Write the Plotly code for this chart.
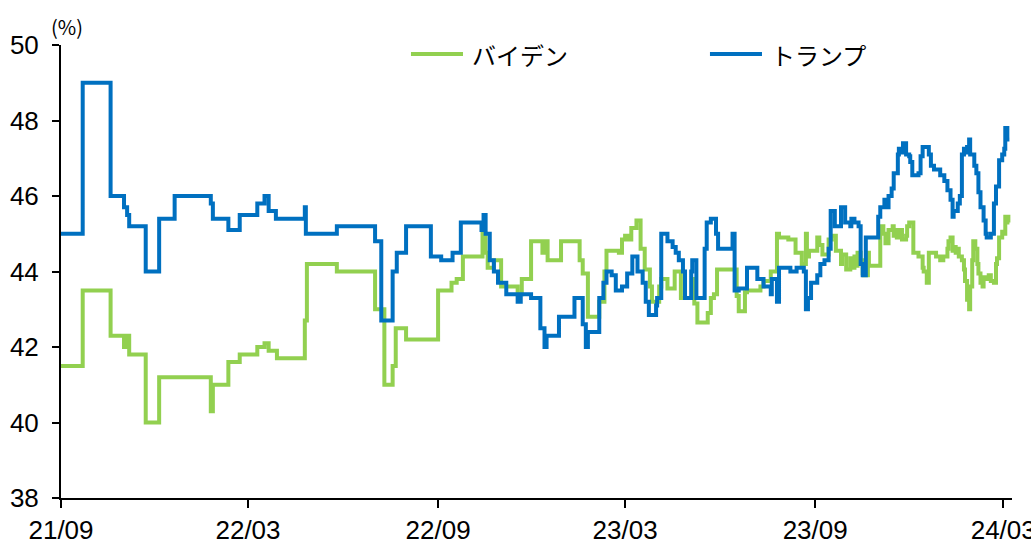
import plotly.graph_objects as go

# Poll averages (%), step series
biden_dates = [
    "2021-09-01", "2021-09-22", "2021-10-19", "2021-11-01", "2021-11-03", "2021-11-06",
    "2021-11-22", "2021-12-05", "2022-01-24", "2022-01-26", "2022-02-10", "2022-02-21",
    "2022-03-10", "2022-03-17", "2022-03-21", "2022-03-29", "2022-04-25", "2022-04-27",
    "2022-05-26", "2022-07-02", "2022-07-11", "2022-07-19", "2022-07-22", "2022-08-01",
    "2022-09-01", "2022-09-14", "2022-09-19", "2022-09-25", "2022-10-14", "2022-10-17",
    "2022-10-19", "2022-10-25", "2022-11-01", "2022-11-17", "2022-11-21", "2022-11-30",
    "2022-12-11", "2022-12-13", "2022-12-16", "2022-12-29", "2023-01-16", "2023-01-19",
    "2023-01-24", "2023-02-04", "2023-02-09", "2023-02-11", "2023-02-23", "2023-02-26",
    "2023-03-01", "2023-03-04", "2023-03-07", "2023-03-12", "2023-03-16", "2023-03-20",
    "2023-03-25", "2023-03-27", "2023-04-03", "2023-04-05", "2023-04-11", "2023-04-18",
    "2023-04-24", "2023-05-05", "2023-05-07", "2023-05-10", "2023-05-20", "2023-05-23",
    "2023-05-26", "2023-05-29", "2023-06-17", "2023-06-19", "2023-06-25", "2023-06-27",
    "2023-07-10", "2023-07-13", "2023-07-20", "2023-07-26", "2023-07-28", "2023-08-06",
    "2023-08-13", "2023-08-19", "2023-08-23", "2023-08-24", "2023-08-26", "2023-09-03",
    "2023-09-05", "2023-09-08", "2023-09-14", "2023-09-17", "2023-09-21", "2023-09-26",
    "2023-09-27", "2023-10-01", "2023-10-05", "2023-10-07", "2023-10-09", "2023-10-10",
    "2023-10-12", "2023-10-15", "2023-10-17", "2023-10-18", "2023-10-22", "2023-10-23",
    "2023-11-03", "2023-11-06", "2023-11-08", "2023-11-11", "2023-11-15", "2023-11-16",
    "2023-11-18", "2023-11-19", "2023-11-22", "2023-11-24", "2023-11-28", "2023-11-29",
    "2023-12-01", "2023-12-05", "2023-12-10", "2023-12-14", "2023-12-15", "2023-12-18",
    "2023-12-20", "2023-12-27", "2023-12-31", "2024-01-03", "2024-01-07", "2024-01-08",
    "2024-01-10", "2024-01-12", "2024-01-13", "2024-01-15", "2024-01-16", "2024-01-18",
    "2024-01-21", "2024-01-23", "2024-01-24", "2024-01-26", "2024-01-28", "2024-01-29",
    "2024-01-31", "2024-02-01", "2024-02-03", "2024-02-05", "2024-02-06", "2024-02-08",
    "2024-02-10", "2024-02-11", "2024-02-14", "2024-02-16", "2024-02-18", "2024-02-21",
    "2024-02-23", "2024-02-24", "2024-02-26", "2024-02-29", "2024-03-02", "2024-03-03",
    "2024-03-05", "2024-03-06", "2024-03-07",
]
biden_values = [
    41.5, 43.5, 42.3, 42.0, 42.3, 41.8,
    40.0, 41.2, 40.3, 41.0, 41.6, 41.8,
    42.0, 42.1, 41.9, 41.7, 42.7, 44.2,
    44.0, 43.0, 41.0, 41.5, 42.5, 42.2,
    43.5, 43.7, 43.8, 44.4, 45.0, 44.5,
    44.1, 44.3, 43.6, 43.4, 43.8, 44.8,
    44.5, 44.8, 44.3, 44.8, 44.3, 43.95,
    42.8, 43.2, 44.0, 44.55, 44.5, 44.85,
    44.95, 44.85, 45.15, 45.35, 44.6, 44.05,
    43.6, 43.2, 43.6, 43.8, 43.55, 44.0,
    43.3, 43.8, 43.15, 42.65, 42.9, 43.3,
    43.4, 44.05, 43.35, 42.95, 43.45, 43.5,
    43.6, 43.75, 44.0, 45.0, 44.9, 44.85,
    44.5, 44.2, 45.0, 44.4, 44.55, 44.9,
    44.7, 44.45, 44.85, 44.95, 44.55, 44.2,
    44.45, 44.05, 44.35, 44.1, 44.4, 44.15,
    44.5, 44.3, 43.95, 43.9, 44.5, 44.15,
    45.2, 45.0, 44.75, 45.1, 45.2, 44.95,
    45.1, 44.9, 45.1, 44.85, 44.95, 45.2,
    45.3, 44.5, 44.4, 44.1, 44.0, 43.7,
    44.5, 44.4, 44.3, 44.4, 44.6, 44.8,
    44.9, 44.55, 44.65, 44.5, 44.6, 44.4,
    44.3, 44.05, 43.75, 43.25, 43.0, 43.6,
    44.3, 44.8, 44.6, 44.2, 43.95, 43.7,
    43.6, 43.85, 43.8, 43.9, 43.75, 43.7,
    44.2, 44.35, 44.9, 45.05, 45.0, 45.45,
    45.45, 45.3, 45.3,
]

trump_dates = [
    "2021-09-01", "2021-09-22", "2021-10-19", "2021-11-01", "2021-11-04", "2021-11-06",
    "2021-11-22", "2021-12-05", "2021-12-20", "2022-01-24", "2022-01-26", "2022-02-10",
    "2022-02-21", "2022-03-10", "2022-03-17", "2022-03-21", "2022-03-28", "2022-04-25",
    "2022-04-26", "2022-05-26", "2022-07-02", "2022-07-08", "2022-07-19", "2022-07-23",
    "2022-08-01", "2022-08-25", "2022-09-04", "2022-09-15", "2022-09-23", "2022-10-13",
    "2022-10-15", "2022-10-17", "2022-10-21", "2022-10-25", "2022-10-29", "2022-11-06",
    "2022-11-17", "2022-11-20", "2022-11-30", "2022-12-09", "2022-12-13", "2022-12-15",
    "2022-12-27", "2023-01-11", "2023-01-19", "2023-01-22", "2023-01-24", "2023-02-04",
    "2023-02-08", "2023-02-11", "2023-02-16", "2023-02-20", "2023-02-26", "2023-03-03",
    "2023-03-08", "2023-03-13", "2023-03-18", "2023-03-21", "2023-03-24", "2023-03-31",
    "2023-04-01", "2023-04-05", "2023-04-11", "2023-04-16", "2023-04-19", "2023-04-22",
    "2023-04-26", "2023-04-28", "2023-05-04", "2023-05-05", "2023-05-09", "2023-05-17",
    "2023-05-19", "2023-05-23", "2023-05-28", "2023-05-30", "2023-06-13", "2023-06-15",
    "2023-06-19", "2023-06-27", "2023-07-07", "2023-07-13", "2023-07-20", "2023-07-21",
    "2023-07-26", "2023-07-28", "2023-08-08", "2023-08-14", "2023-08-21", "2023-08-23",
    "2023-08-25", "2023-08-28", "2023-09-03", "2023-09-06", "2023-09-10", "2023-09-14",
    "2023-09-16", "2023-09-20", "2023-09-26", "2023-09-30", "2023-10-05", "2023-10-06",
    "2023-10-09", "2023-10-13", "2023-10-15", "2023-10-17", "2023-10-20", "2023-11-01",
    "2023-11-03", "2023-11-07", "2023-11-09", "2023-11-11", "2023-11-14", "2023-11-16",
    "2023-11-20", "2023-11-21", "2023-11-23", "2023-11-25", "2023-11-28", "2023-12-01",
    "2023-12-02", "2023-12-04", "2023-12-10", "2023-12-12", "2023-12-14", "2023-12-20",
    "2023-12-22", "2023-12-25", "2023-12-31", "2024-01-04", "2024-01-07", "2024-01-10",
    "2024-01-12", "2024-01-13", "2024-01-17", "2024-01-19", "2024-01-21", "2024-01-23",
    "2024-01-25", "2024-01-26", "2024-01-28", "2024-01-29", "2024-02-02", "2024-02-04",
    "2024-02-06", "2024-02-08", "2024-02-11", "2024-02-13", "2024-02-14", "2024-02-18",
    "2024-02-21", "2024-02-23", "2024-02-26", "2024-02-29", "2024-03-02", "2024-03-03",
    "2024-03-05", "2024-03-07",
]
trump_values = [
    45.0, 49.0, 46.0, 45.7, 45.5, 45.2,
    44.0, 45.4, 46.0, 45.8, 45.4, 45.1,
    45.5, 45.8, 46.0, 45.6, 45.4, 45.7,
    45.0, 45.2, 44.8, 42.7, 44.0, 44.5,
    45.2, 44.4, 44.3, 44.5, 45.3, 45.1,
    45.5, 45.0, 44.3, 44.0, 43.7, 43.4,
    43.2, 43.4, 43.3, 42.5, 42.0, 42.3,
    42.8, 43.3, 42.6, 42.0, 42.4, 43.3,
    43.7, 44.0, 43.9, 43.5, 43.6, 43.95,
    44.4, 44.0, 43.7, 43.2, 42.85, 43.1,
    43.3, 45.0, 44.8, 44.65, 44.5, 44.3,
    44.0, 43.3, 44.0, 44.3, 43.3, 44.6,
    45.3, 45.4, 45.0, 44.6, 45.0, 43.5,
    43.55, 44.1, 43.8, 43.6, 43.4, 43.8,
    43.2, 44.1, 44.0, 44.1, 44.0, 43.0,
    43.3, 43.7, 43.9, 44.2, 44.3, 44.6,
    45.6, 45.2, 45.7, 45.3, 45.2, 45.4,
    45.3, 45.2, 44.2, 43.9, 44.9, 45.45,
    45.7, 45.9, 45.7, 46.0, 46.2, 46.6,
    47.1, 47.25, 47.15, 47.4, 47.1, 47.05,
    46.9, 46.55, 46.6, 47.05, 47.3, 47.1,
    46.8, 46.7, 46.55, 46.4, 46.15, 45.9,
    45.45, 45.6, 45.8, 46.0, 47.1, 47.25,
    47.15, 47.3, 47.5, 47.1, 46.8, 46.6,
    46.1, 45.7, 45.35, 45.0, 44.9, 45.0,
    45.8, 46.25, 46.95, 47.1, 47.25, 47.8,
    47.5, 47.5,
]

x_tick_dates = ["2021-09-01", "2022-03-01", "2022-09-01", "2023-03-01", "2023-09-01", "2024-03-01"]
x_tick_labels = ["21/09", "22/03", "22/09", "23/03", "23/09", "24/03"]
y_ticks = [38, 40, 42, 44, 46, 48, 50]

BIDEN_COLOR = "#92D050"
TRUMP_COLOR = "#0070C0"
TICK_FONT = dict(family="Liberation Sans, Arial, sans-serif", size=26, color="#000000")
JP_FONT = "Noto Sans CJK JP, sans-serif"

fig = go.Figure()
fig.add_trace(go.Scatter(
    x=biden_dates, y=biden_values, name="バイデン", mode="lines",
    line=dict(color=BIDEN_COLOR, width=4, shape="hv"),
))
fig.add_trace(go.Scatter(
    x=trump_dates, y=trump_values, name="トランプ", mode="lines",
    line=dict(color=TRUMP_COLOR, width=4, shape="hv"),
))

fig.update_layout(
    width=1031, height=545,
    margin=dict(l=61, r=19, t=45, b=47, autoexpand=False),
    paper_bgcolor="white", plot_bgcolor="white",
    showlegend=False,
    xaxis=dict(
        type="date",
        range=["2021-09-01", "2024-03-09 12:00"],
        tickmode="array", tickvals=x_tick_dates, ticktext=x_tick_labels,
        showgrid=False, zeroline=False, automargin=False,
        showline=True, linecolor="black", linewidth=2,
        ticks="outside", ticklen=8, tickwidth=1.5, tickcolor="black",
        tickfont=TICK_FONT, ticklabelstandoff=0, ticklabeloverflow="allow",
    ),
    yaxis=dict(
        range=[38, 50],
        tickmode="array", tickvals=y_ticks, ticktext=[str(v) for v in y_ticks],
        showgrid=False, zeroline=False, automargin=False,
        showline=True, linecolor="black", linewidth=2,
        ticks="outside", ticklen=7, tickwidth=1.5, tickcolor="black",
        tickfont=TICK_FONT, ticklabelstandoff=8, ticklabeloverflow="allow",
    ),
)

# Unit label above the value axis
fig.add_annotation(
    text="(%)", xref="paper", yref="paper", x=0.006, y=1.04,
    xanchor="center", yanchor="middle", showarrow=False,
    font=dict(family=JP_FONT, size=20, color="#000000"),
)

# Legend: line sample followed by the series name
legend_items = [
    ("バイデン", BIDEN_COLOR, 0.368),
    ("トランプ", TRUMP_COLOR, 0.6824),
]
for name, color, x0 in legend_items:
    fig.add_shape(
        type="line", xref="paper", yref="paper",
        x0=x0, x1=x0 + 0.0547, y0=0.980, y1=0.980,
        line=dict(color=color, width=4),
    )
    fig.add_annotation(
        text=name, xref="paper", yref="paper", x=x0 + 0.062, y=0.980,
        xanchor="left", yanchor="middle", showarrow=False,
        font=dict(family=JP_FONT, size=24, color="#000000"),
    )

fig.write_html("out.html")
